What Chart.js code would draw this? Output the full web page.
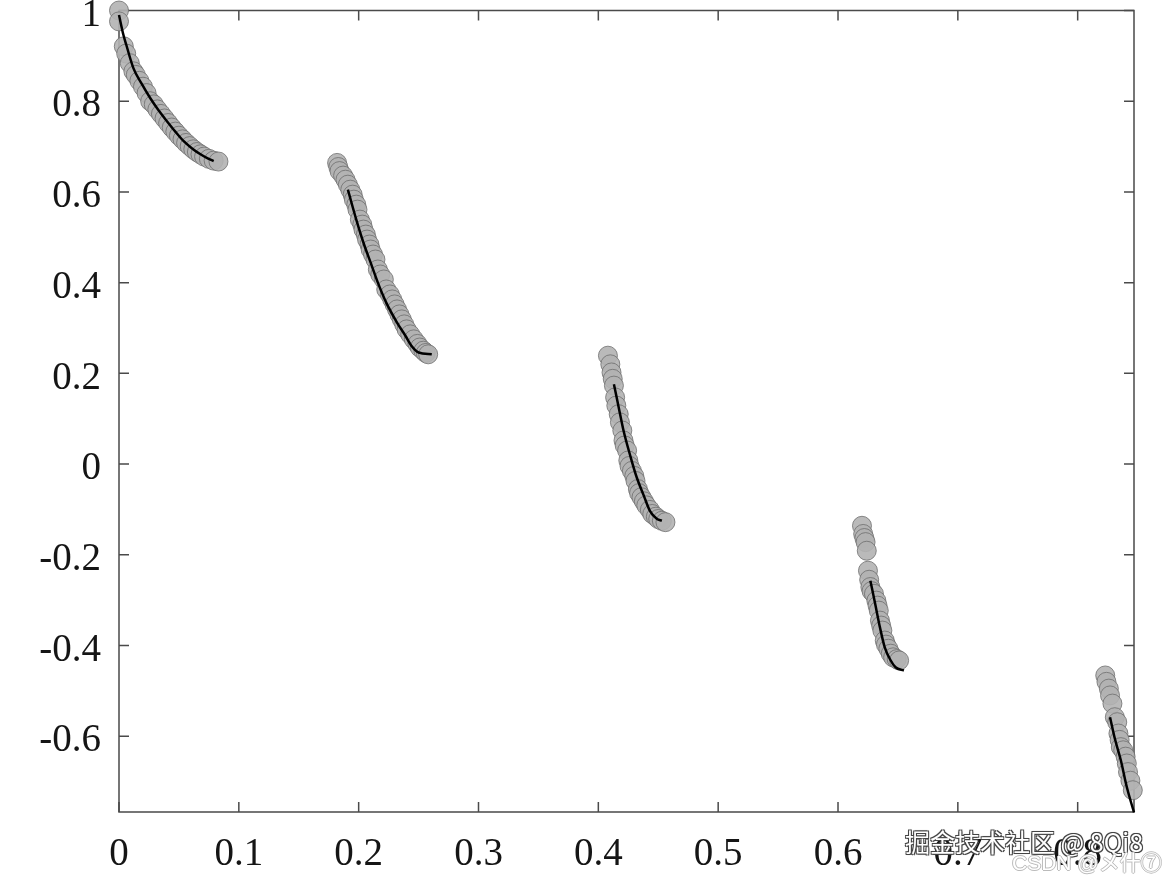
<!DOCTYPE html>
<html><head><meta charset="utf-8">
<script src="https://cdn.jsdelivr.net/npm/chart.js@4/dist/chart.umd.min.js"></script>
<style>
html,body{margin:0;padding:0;background:#fff;}
#wrap{position:relative;width:1169px;height:879px;overflow:hidden;}
canvas{display:block;}
.wm1{position:absolute;left:905px;top:823px;font-size:25px;font-family:"Noto Sans CJK SC",sans-serif;color:#fff;white-space:nowrap;
 text-shadow:-1px -1px 0 #444,1px -1px 0 #444,-1px 1px 0 #444,1px 1px 0 #444,0 0 2px #666;}
.wm2{position:absolute;left:1012px;top:846px;font-size:21px;font-family:"Liberation Sans","Noto Sans CJK JP",sans-serif;color:#fff;white-space:nowrap;
 text-shadow:-1px 0 0 #bbb,1px 0 0 #bbb,0 -1px 0 #bbb,0 1px 0 #bbb;}
</style></head><body>
<div id="wrap"><canvas id="c" width="1169" height="879"></canvas>
<div class="wm1">掘金技术社区 @ 8Qi8</div>
<div class="wm2">CSDN @メ什⑦</div>
</div>
<script>
const xTicks = [0, 0.1, 0.2, 0.3, 0.4, 0.5, 0.6, 0.7, 0.8];
const xTickLabels = ['0', '0.1', '0.2', '0.3', '0.4', '0.5', '0.6', '0.7', '0.8'];
const yTicks = [-0.6, -0.4, -0.2, 0, 0.2, 0.4, 0.6, 0.8, 1];
const yTickLabels = ['-0.6', '-0.4', '-0.2', '0', '0.2', '0.4', '0.6', '0.8', '1'];

// scatter segments
const seg1X = [0, 0, 0.004, 0.006, 0.009, 0.012, 0.014, 0.017, 0.020, 0.023, 0.026, 0.029, 0.032, 0.035, 0.038, 0.041, 0.044, 0.047, 0.050, 0.053, 0.056, 0.059, 0.062, 0.065, 0.068, 0.071, 0.075, 0.079, 0.083];
const seg1Y = [1.0, 0.976, 0.921, 0.905, 0.884, 0.866, 0.858, 0.845, 0.832, 0.818, 0.800, 0.793, 0.782, 0.772, 0.762, 0.752, 0.742, 0.733, 0.724, 0.716, 0.708, 0.701, 0.694, 0.688, 0.683, 0.678, 0.673, 0.669, 0.667];
const seg2X = [0.182, 0.183, 0.184, 0.187, 0.189, 0.191, 0.193, 0.195, 0.196, 0.198, 0.199, 0.201, 0.203, 0.204, 0.206, 0.207, 0.209, 0.210, 0.212, 0.214, 0.216, 0.218, 0.221, 0.223, 0.226, 0.228, 0.230, 0.232, 0.234, 0.236, 0.238, 0.240, 0.243, 0.246, 0.249, 0.251, 0.254, 0.256, 0.258];
const seg2Y = [0.664, 0.655, 0.646, 0.636, 0.627, 0.616, 0.605, 0.594, 0.583, 0.572, 0.561, 0.539, 0.528, 0.517, 0.506, 0.495, 0.484, 0.473, 0.462, 0.451, 0.429, 0.418, 0.407, 0.385, 0.374, 0.363, 0.352, 0.341, 0.330, 0.319, 0.308, 0.297, 0.286, 0.275, 0.265, 0.257, 0.250, 0.245, 0.242];
const seg3X = [0.408, 0.410, 0.411, 0.412, 0.413, 0.414, 0.415, 0.417, 0.418, 0.420, 0.421, 0.422, 0.424, 0.425, 0.426, 0.428, 0.430, 0.431, 0.433, 0.434, 0.436, 0.438, 0.440, 0.443, 0.445, 0.448, 0.450, 0.453, 0.456];
const seg3Y = [0.239, 0.220, 0.202, 0.188, 0.173, 0.147, 0.129, 0.110, 0.092, 0.074, 0.052, 0.041, 0.030, 0.008, -0.004, -0.015, -0.026, -0.037, -0.055, -0.064, -0.073, -0.082, -0.091, -0.101, -0.110, -0.116, -0.121, -0.125, -0.128];
const seg4X = [0.620, 0.621, 0.622, 0.623, 0.624, 0.625, 0.626, 0.627, 0.628, 0.630, 0.632, 0.633, 0.634, 0.635, 0.636, 0.637, 0.639, 0.640, 0.642, 0.644, 0.646, 0.649, 0.651];
const seg4Y = [-0.136, -0.154, -0.163, -0.172, -0.191, -0.235, -0.255, -0.271, -0.280, -0.286, -0.301, -0.312, -0.323, -0.345, -0.356, -0.367, -0.389, -0.398, -0.407, -0.418, -0.426, -0.430, -0.433];
const seg5X = [0.823, 0.824, 0.826, 0.827, 0.829, 0.831, 0.833, 0.834, 0.835, 0.836, 0.838, 0.840, 0.841, 0.842, 0.844, 0.846];
const seg5Y = [-0.466, -0.480, -0.495, -0.510, -0.528, -0.558, -0.569, -0.594, -0.608, -0.624, -0.631, -0.645, -0.660, -0.679, -0.698, -0.719];

// fitted curves
const fit1X = [0, 0.0036, 0.006, 0.012, 0.019, 0.026, 0.033, 0.040, 0.047, 0.054, 0.061, 0.068, 0.074, 0.079];
const fit1Y = [0.99, 0.947, 0.925, 0.873, 0.838, 0.807, 0.780, 0.756, 0.733, 0.712, 0.696, 0.683, 0.674, 0.668];
const fit2X = [0.191, 0.198, 0.204, 0.210, 0.216, 0.223, 0.232, 0.239, 0.244, 0.250, 0.261];
const fit2Y = [0.605, 0.539, 0.488, 0.444, 0.400, 0.356, 0.312, 0.283, 0.261, 0.246, 0.242];
const fit3X = [0.413, 0.417, 0.421, 0.427, 0.432, 0.438, 0.443, 0.449, 0.453];
const fit3Y = [0.176, 0.125, 0.074, 0.015, -0.029, -0.070, -0.103, -0.121, -0.125];
const fit4X = [0.627, 0.631, 0.635, 0.639, 0.644, 0.648, 0.655];
const fit4Y = [-0.257, -0.308, -0.360, -0.404, -0.433, -0.448, -0.455];
const fit5X = [0.827, 0.831, 0.836, 0.841, 0.847];
const fit5Y = [-0.558, -0.605, -0.653, -0.712, -0.768];

const zip = (xs, ys) => xs.map((x, i) => ({x: x, y: ys[i]}));

const FONT = {family: '"Liberation Serif", "Times New Roman", serif', size: 39};
const AXIS_COLOR = '#4a4a4a';

const pointStyle = {
  type: 'scatter', order: 2, pointRadius: 9.5, pointHoverRadius: 9.5,
  backgroundColor: 'rgba(178,178,178,0.9)', borderColor: 'rgba(110,110,110,0.8)', borderWidth: 1,
  showLine: false, clip: false
};
const lineStyle = {
  type: 'line', order: 1, pointRadius: 0, borderColor: '#000', borderWidth: 2.5,
  fill: false, cubicInterpolationMode: 'monotone', clip: false
};

const datasets = [];
[[seg1X, seg1Y], [seg2X, seg2Y], [seg3X, seg3Y], [seg4X, seg4Y], [seg5X, seg5Y]].forEach(([xs, ys]) => {
  datasets.push(Object.assign({data: zip(xs, ys)}, pointStyle));
});
[[fit1X, fit1Y], [fit2X, fit2Y], [fit3X, fit3Y], [fit4X, fit4Y], [fit5X, fit5Y]].forEach(([xs, ys]) => {
  datasets.push(Object.assign({data: zip(xs, ys)}, lineStyle));
});

const framePlugin = {
  id: 'frame',
  beforeDatasetsDraw(chart) {
    const {ctx, chartArea: a, scales} = chart;
    const tl = 10;
    ctx.save();
    ctx.strokeStyle = AXIS_COLOR;
    ctx.lineWidth = 1.5;
    ctx.beginPath();
    ctx.rect(a.left, a.top, a.right - a.left, a.bottom - a.top);
    ctx.stroke();
    ctx.beginPath();
    xTicks.forEach(v => {
      const px = scales.x.getPixelForValue(v);
      ctx.moveTo(px, a.bottom); ctx.lineTo(px, a.bottom - tl);
      ctx.moveTo(px, a.top); ctx.lineTo(px, a.top + tl);
    });
    yTicks.forEach(v => {
      const py = scales.y.getPixelForValue(v);
      ctx.moveTo(a.left, py); ctx.lineTo(a.left + tl, py);
      ctx.moveTo(a.right, py); ctx.lineTo(a.right - tl, py);
    });
    ctx.stroke();
    ctx.restore();
  }
};

new Chart(document.getElementById('c'), {
  type: 'scatter',
  data: {datasets: datasets},
  options: {
    responsive: false, animation: false, events: [],
    layout: {padding: {left: 0, right: 35, top: 9, bottom: 0}},
    plugins: {legend: {display: false}, tooltip: {enabled: false}},
    scales: {
      x: {
        type: 'linear', min: 0, max: 0.847,
        grid: {display: false, drawTicks: false}, border: {display: false},
        afterBuildTicks: s => { s.ticks = xTicks.map(v => ({value: v})); },
        ticks: {
          autoSkip: false, maxRotation: 0, minRotation: 0, padding: 19,
          color: '#151515', font: FONT,
          callback: (v, i) => xTickLabels[i]
        },
        afterFit: s => { s.height = 67; s.paddingLeft = 0; s.paddingRight = 0; }
      },
      y: {
        type: 'linear', min: -0.767, max: 1,
        grid: {display: false, drawTicks: false}, border: {display: false},
        afterBuildTicks: s => { s.ticks = yTicks.map(v => ({value: v})); },
        ticks: {
          autoSkip: false, padding: 18, labelOffset: 5,
          color: '#151515', font: FONT,
          callback: (v, i) => yTickLabels[i]
        },
        afterFit: s => { s.width = 119; s.paddingTop = 0; s.paddingBottom = 0; }
      }
    }
  },
  plugins: [framePlugin]
});
</script>
</body></html>
